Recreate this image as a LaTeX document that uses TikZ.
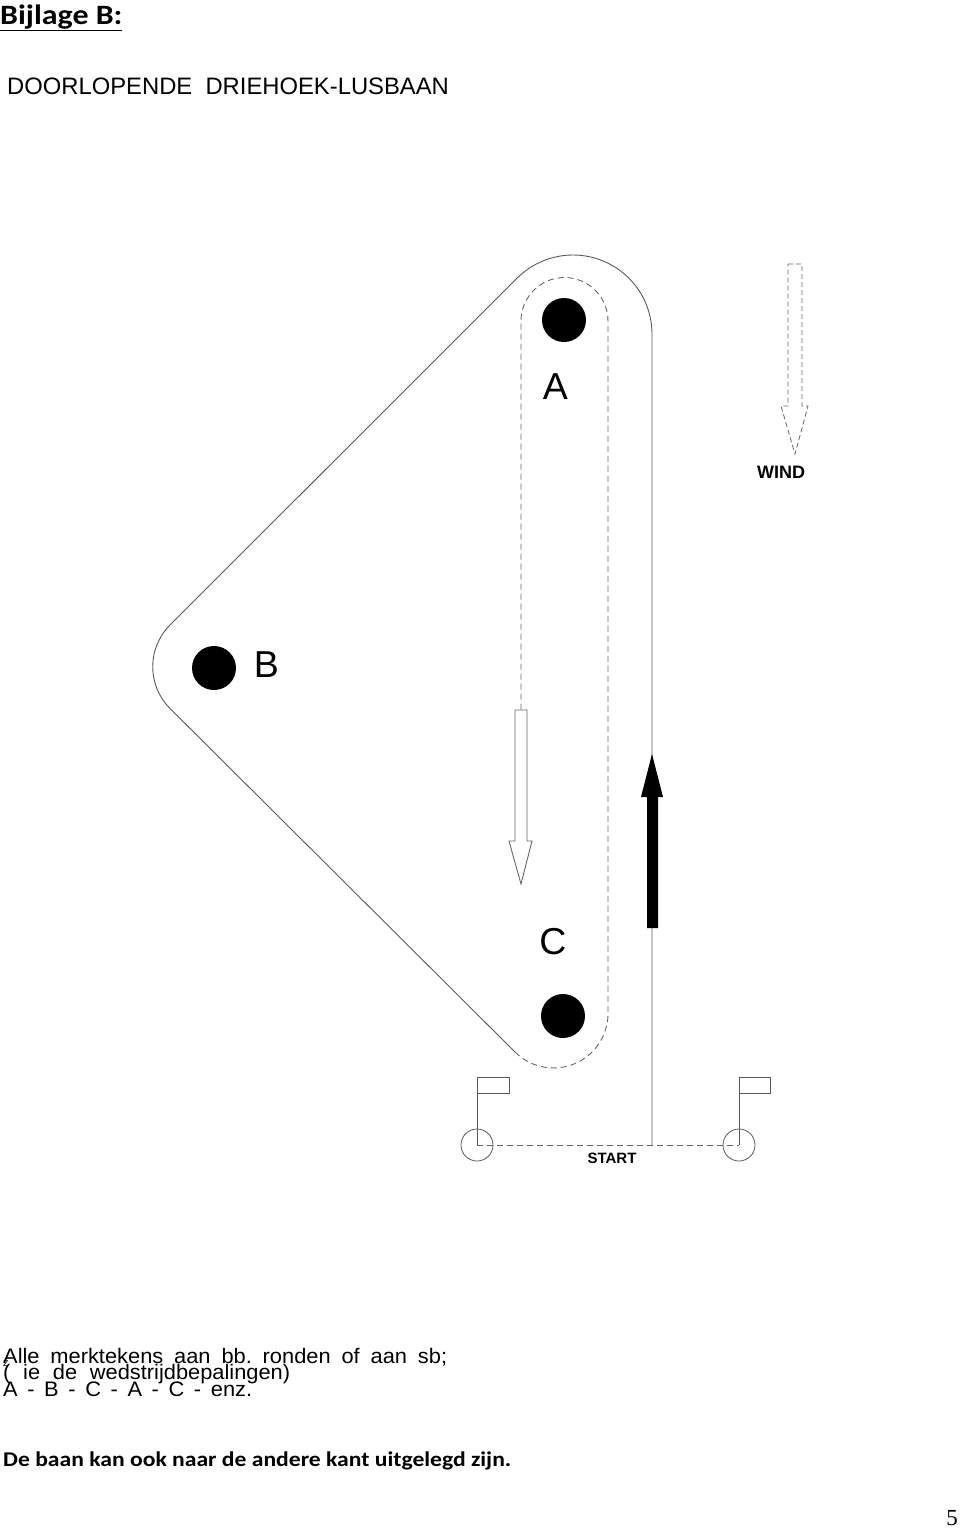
\documentclass[tikz,border=0pt]{standalone}
\usepackage{fontspec}
\setmainfont{Liberation Sans}
\newfontfamily\calfont{Carlito}
\newfontfamily\serifnum{Liberation Serif}
\frenchspacing
\begin{document}
\begin{tikzpicture}[x=1pt,y=-1pt,
  course/.style={draw=black!65, line width=0.9pt},
  dashcourse/.style={draw=black!60, line width=0.9pt, dash pattern=on 6pt off 4pt},
  buoy/.style={circle, fill=black, minimum size=44pt, inner sep=0pt},
  lbl/.style={inner sep=0pt, anchor=base},
  thinline/.style={draw=black!65, line width=0.8pt}]
\useasboundingbox (0,0) rectangle (960,1529);

% title
\node[inner sep=0pt, anchor=base west] (t1) at (0,24) {\scalebox{1.14}[1]{\calfont\bfseries\fontsize{28}{30}\selectfont \underline{Bijlage B:}}};
\node[inner sep=0pt, anchor=base west] (t2) at (7,94) {\fontsize{23.8}{28}\selectfont DOORLOPENDE\ \ DRIEHOEK-LUSBAAN};

% marks
\node[buoy] (A) at (564,320) {};
\node[buoy] (B) at (214,668) {};
\node[buoy] (C) at (563,1016) {};
\node[lbl] (la) at (555.5,399) {\fontsize{37.5}{40}\selectfont A};
\node[lbl] (lb) at (266.5,677) {\fontsize{37.5}{40}\selectfont B};
\node[lbl] (lc) at (553,954) {\fontsize{37.5}{40}\selectfont C};

% course (solid part)
\draw[course] (652,1145) -- (652,334) arc[start angle=0, end angle=-135, radius=79]
  -- (170,625) arc[start angle=-135, end angle=-225, radius=59] -- (515,1052);
% course (dashed part)
\draw[dashcourse] (515,1052) arc[start angle=135, end angle=0, radius=54.5]
  -- (608,321) arc[start angle=0, end angle=-180, radius=43.5] -- (521,710);

% hollow arrow (down)
\draw[draw=black!60, line width=0.9pt, fill=white] (515,710) -- (527,710) -- (527,841) -- (532,841)
  -- (521,884) -- (509,841) -- (515,841) -- cycle;
% black arrow (up)
\fill[black] (647,928) -- (658,928) -- (658,797) -- (663,797) -- (652,754) -- (641,797) -- (647,797) -- cycle;

% wind arrow
\draw[dashcourse, dash pattern=on 5pt off 3pt, line width=0.8pt] (788,264) -- (802,264) -- (802,406) -- (808,406)
  -- (795,454) -- (781,406) -- (788,406) -- cycle;
\node[lbl] (wind) at (781,478.5) {\bfseries\fontsize{18}{20}\selectfont WIND};

% start line with flags
\coordinate (pinL) at (477,1145);
\coordinate (pinR) at (739,1145);
\draw[thinline] (pinL) circle[radius=16];
\draw[thinline] (pinR) circle[radius=16];
\draw[thinline] (pinL) -- (477,1077) -- (509,1077) -- (509,1093) -- (477,1093);
\draw[thinline] (pinR) -- (739,1077) -- (770,1077) -- (770,1093) -- (739,1093);
\draw[dashcourse] (pinL) -- (pinR);
\node[lbl] (start) at (612,1163.5) {\bfseries\fontsize{15}{17}\selectfont START};

% notes
\node[inner sep=0pt, anchor=base west] (notes) at (3,1363) {\scalebox{1.04}[1]{\fontsize{21}{16.5}\selectfont\lineskiplimit=-30pt
  \vtop{\hbox{\makebox[426.9pt][s]{Alle merktekens aan bb. ronden of aan sb;}}
        \hbox{\makebox[276pt][s]{\rlap{\raisebox{13pt}{\fontsize{8.5}{9}\selectfont Z}}( ie de wedstrijdbepalingen)}}
        \hbox{\makebox[239.4pt][s]{A - B - C - A - C - enz.}}}}};
\node[inner sep=0pt, anchor=base west] (n4) at (3,1466) {\scalebox{1.125}[1]{\calfont\bfseries\fontsize{21}{24}\selectfont De baan kan ook naar de andere kant uitgelegd zijn.}};

\node[lbl] (page) at (952,1525) {\serifnum\fontsize{23}{25}\selectfont 5};
\end{tikzpicture}
\end{document}
